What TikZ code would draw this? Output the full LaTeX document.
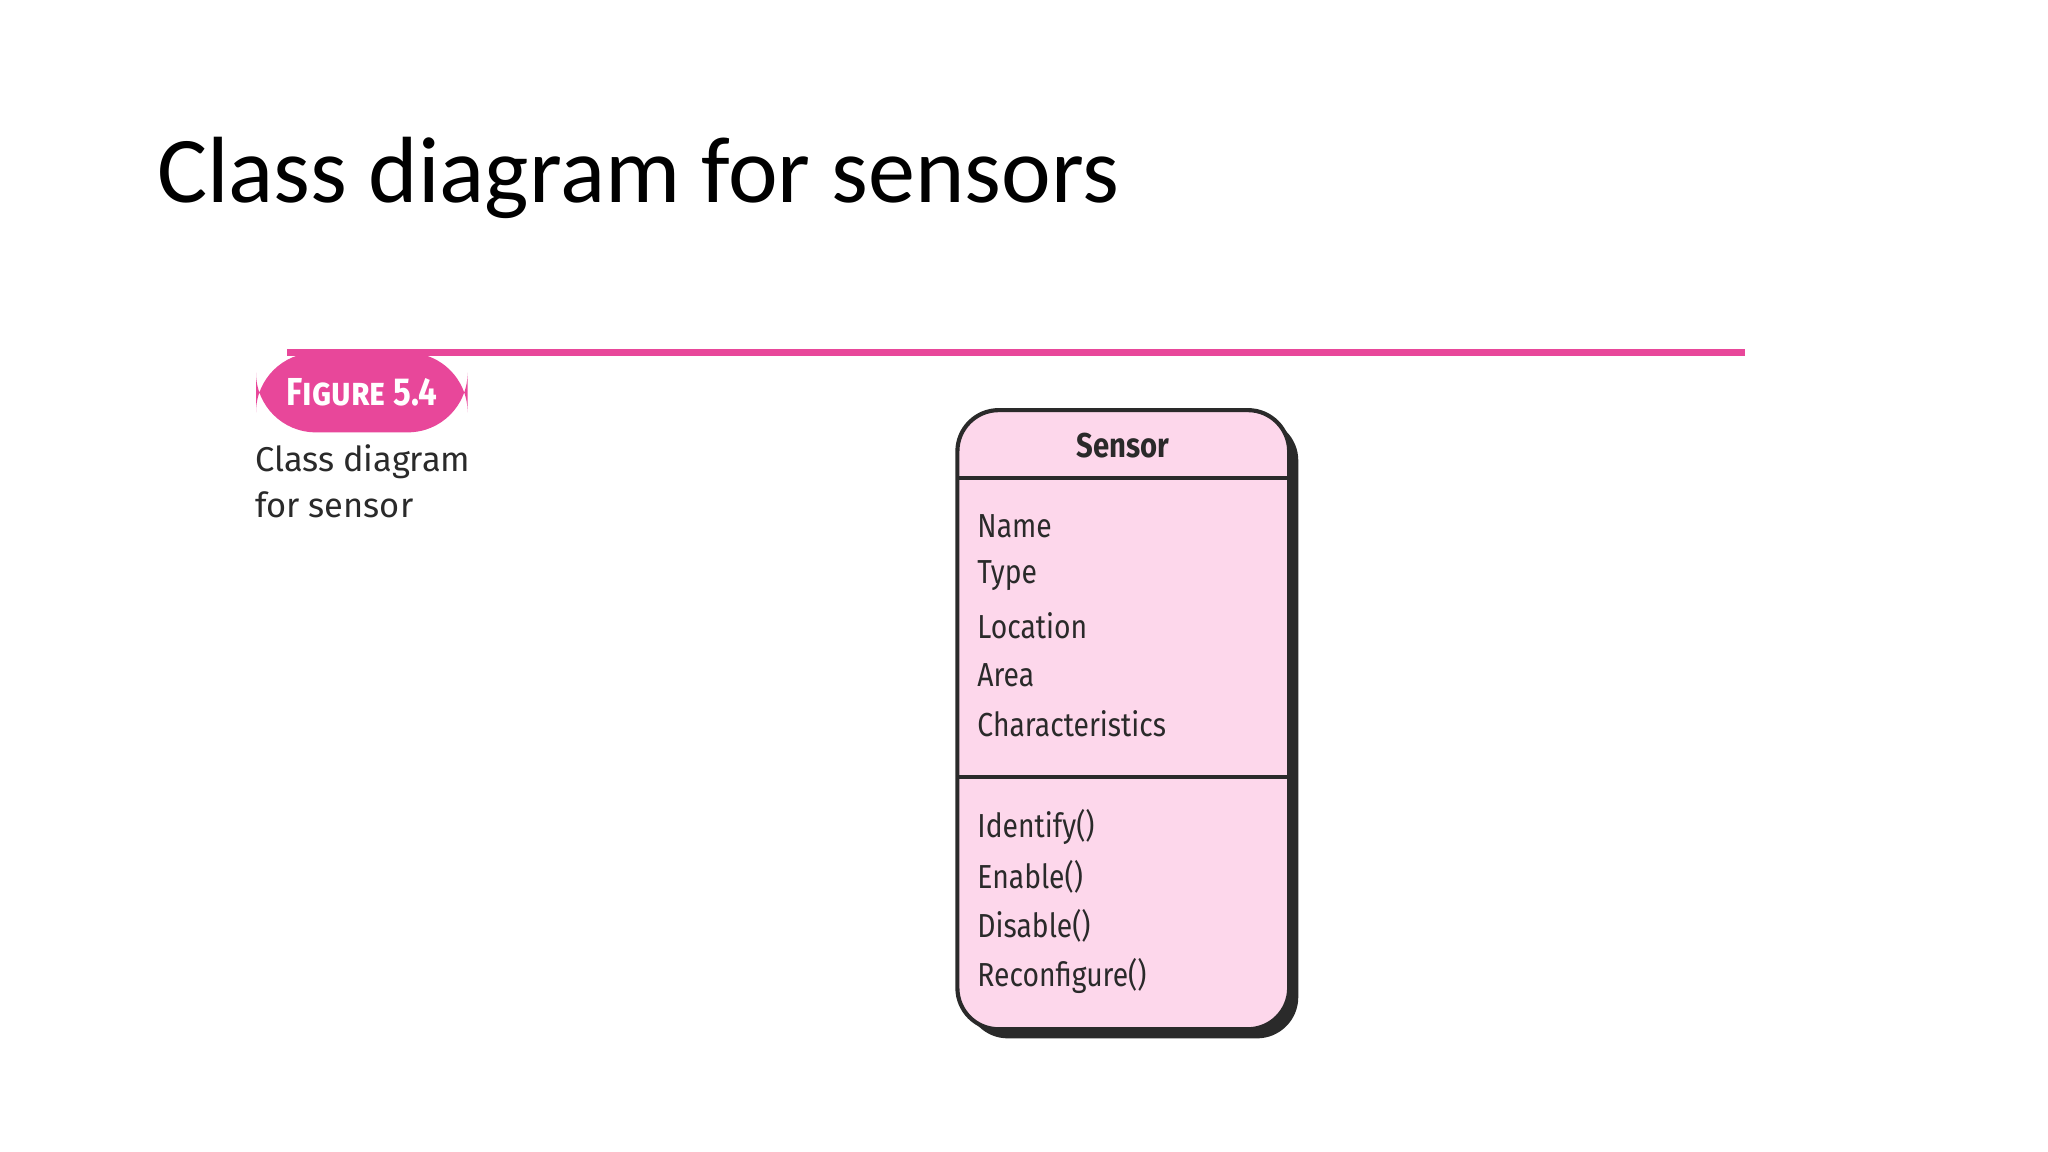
\documentclass[tikz,border=0pt]{standalone}
\usepackage{fontspec}
\setmainfont{Carlito}
\newfontfamily\figfont{Fira Sans}
\newfontfamily\itemfont[FakeStretch=0.85]{Fira Sans}
\definecolor{hot}{HTML}{E8479A}
\definecolor{boxpink}{HTML}{FDD7EB}
\definecolor{dark}{HTML}{2A2A2A}
\tikzset{
  item/.style={anchor=west,font=\itemfont\fontsize{14.5}{14.5}\selectfont,text=dark,inner sep=0pt},
}
\begin{document}
\begin{tikzpicture}[x=0.02cm,y=-0.02cm]
\useasboundingbox[fill=white] (0,0) rectangle (1568,882);
\node[anchor=base west,inner sep=0pt,font=\fontsize{41}{41}\selectfont] (title) at (120,155) {Class diagram for sensors};
\coordinate (l1) at (220,270); \coordinate (l2) at (1336,270);
\draw[hot,line width=3pt] (l1) -- (l2);
\fill[hot,rounded corners=26pt] (196,270) rectangle (358,331);
\node[text=white,font=\itemfont\bfseries\fontsize{17}{17}\selectfont] (fig) at (277,300) {F\textsc{igure} 5.4};
\node[anchor=north west,align=left,inner sep=0pt,font=\figfont\fontsize{15}{20}\selectfont,text=dark] (cap) at (195,340) {Class diagram\\for sensor};
% shadow
\fill[dark,rounded corners=18pt] (740,321) rectangle (994,795);
\draw[dark,line width=1.8pt,fill=boxpink,rounded corners=18pt] (733,314) rectangle (987,788);
\coordinate (d1a) at (733,366); \coordinate (d1b) at (987,366);
\coordinate (d2a) at (733,595); \coordinate (d2b) at (987,595);
\draw[dark,line width=1.8pt] (d1a) -- (d1b);
\draw[dark,line width=1.8pt] (d2a) -- (d2b);
\node[font=\itemfont\bfseries\fontsize{15}{15}\selectfont,text=dark] (hd) at (860,341) {Sensor};
\node[item] (a1) at (748,403) {Name};
\node[item] (a2) at (748,441) {Type};
\node[item] (a3) at (748,479) {Location};
\node[item] (a4) at (748,517) {Area};
\node[item] (a5) at (748,554) {Characteristics};
\node[item] (m1) at (748,633) {Identify()};
\node[item] (m2) at (748,671) {Enable()};
\node[item] (m3) at (748,709) {Disable()};
\node[item] (m4) at (748,747) {Reconfigure()};
\end{tikzpicture}
\end{document}
